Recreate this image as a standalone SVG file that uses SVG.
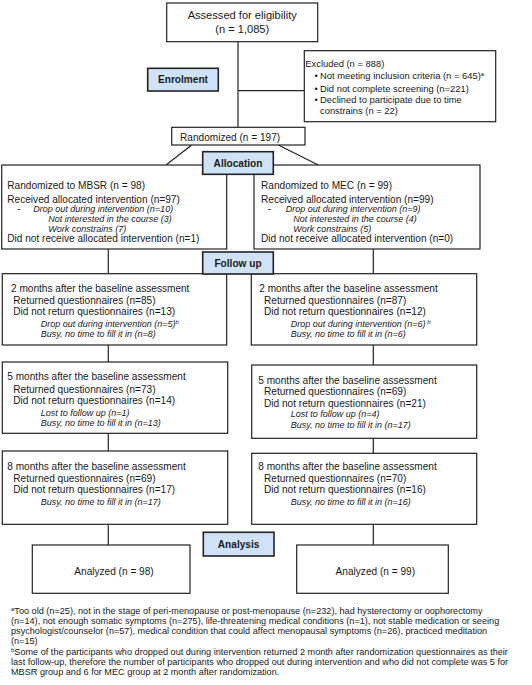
<svg xmlns="http://www.w3.org/2000/svg" width="532" height="685" viewBox="0 0 532 685">
<style>
.box{fill:#fff;stroke:#222;stroke-width:1.2}
.lab{fill:#cfe2f7;stroke:#222;stroke-width:1.6}
.ln{stroke:#222;stroke-width:1.2;fill:none}
text{font-family:"Liberation Sans",Arial,sans-serif;fill:#1a1a1a}
.t{font-size:10.1px}
.big{font-size:11.1px}
.ex{font-size:9.4px}
.i{font-size:9px;font-style:italic}
.b{font-size:10.1px;font-weight:bold}
.fn{font-size:9.15px}
.sup{font-size:6px}
</style>
<rect width="532" height="685" fill="#fff"/>
<g id="connectors">
<line class="ln" x1="238" y1="41.7" x2="238" y2="127.3"/>
<line class="ln" x1="238" y1="90.7" x2="304.3" y2="90.7"/>
<line class="ln" x1="191.7" y1="145" x2="166" y2="165"/>
<line class="ln" x1="278.3" y1="145" x2="318.3" y2="165"/>
<line class="ln" x1="108.3" y1="249" x2="108.3" y2="273.7"/>
<line class="ln" x1="373.3" y1="249" x2="373.3" y2="273.7"/>
<line class="ln" x1="108.3" y1="345" x2="108.3" y2="362"/>
<line class="ln" x1="373.3" y1="345" x2="373.3" y2="365"/>
<line class="ln" x1="108.3" y1="433.3" x2="108.3" y2="451"/>
<line class="ln" x1="373.3" y1="438.3" x2="373.3" y2="453.3"/>
<line class="ln" x1="108.3" y1="524.3" x2="108.3" y2="545"/>
<line class="ln" x1="373.3" y1="524.3" x2="373.3" y2="545"/>
</g>
<g id="assessed">
<rect class="box" x="166.7" y="3" width="151" height="38.7"/>
<text class="big" x="242.2" y="18.9" text-anchor="middle">Assessed for eligibility</text>
<text class="big" x="242.2" y="33.2" text-anchor="middle">(n = 1,085)</text>
</g>
<g id="excluded">
<rect class="box" x="304.3" y="50.7" width="191.4" height="71"/>
<text class="ex" x="305.3" y="66.6">Excluded (n = 888)</text>
<text class="ex" x="314.5" y="79.3">•</text>
<text class="ex" x="320" y="79.3">Not meeting inclusion criteria (n = 645)<tspan class="sup" dy="-3">a</tspan></text>
<text class="ex" x="314.5" y="91.6">•</text>
<text class="ex" x="320" y="91.6">Did not complete screening (n=221)</text>
<text class="ex" x="314.5" y="102.6">•</text>
<text class="ex" x="320" y="102.6">Declined to participate due to time</text>
<text class="ex" x="320" y="114">constrains (n = 22)</text>
</g>
<g id="enrolment">
<rect class="lab" x="147.7" y="68.3" width="70.6" height="22.7"/>
<text class="b" x="183" y="83.25" text-anchor="middle">Enrolment</text>
</g>
<g id="randomized">
<rect class="box" x="171.7" y="127.3" width="133.3" height="17.7"/>
<text class="t" x="180" y="140.85">Randomized (n = 197)</text>
</g>
<g id="mbsr-alloc">
<rect class="box" x="1.7" y="165" width="225" height="84"/>
<text class="t" x="7.3" y="189.25">Randomized to MBSR (n = 98)</text>
<text class="t" x="7.3" y="202.55">Received allocated intervention (n=97)</text>
<text class="t" x="17.3" y="212.45">-</text>
<text class="i" x="33.3" y="212.45">Drop out during intervention (n=10)</text>
<text class="i" x="48.3" y="222.15">Not interested in the course (3)</text>
<text class="i" x="48.3" y="231.85">Work constrains (7)</text>
<text class="t" x="7.3" y="241.85">Did not receive allocated intervention (n=1)</text>
</g>
<g id="mec-alloc">
<rect class="box" x="254" y="165" width="226" height="84"/>
<text class="t" x="261" y="189.25">Randomized to MEC (n = 99)</text>
<text class="t" x="261" y="202.55">Received allocated intervention (n=99)</text>
<text class="t" x="267.7" y="212.45">-</text>
<text class="i" x="285.7" y="212.45">Drop out during intervention (n=9)</text>
<text class="i" x="293.3" y="222.15">Not interested in the course (4)</text>
<text class="i" x="293.3" y="231.85">Work constrains (5)</text>
<text class="t" x="261" y="241.85">Did not receive allocated intervention (n=0)</text>
</g>
<g id="allocation">
<rect class="lab" x="202.7" y="151.7" width="70.6" height="22.6"/>
<text class="b" x="238" y="166.55" text-anchor="middle">Allocation</text>
</g>
<g id="mbsr-2m">
<rect class="box" x="2.3" y="273.7" width="224.4" height="71.3"/>
<text class="t" x="11" y="291.85">2 months after the baseline assessment</text>
<text class="t" x="13.3" y="303.55">Returned questionnaires (n=85)</text>
<text class="t" x="13.3" y="315.25">Did not return questionnaires (n=13)</text>
<text class="i" x="40.7" y="327.15">Drop out during intervention (n=5)<tspan class="sup" dy="-3">b</tspan></text>
<text class="i" x="40.7" y="337.45">Busy, no time to fill it in (n=8)</text>
</g>
<g id="mec-2m">
<rect class="box" x="251.3" y="273.7" width="225.4" height="71.3"/>
<text class="t" x="259.3" y="291.85">2 months after the baseline assessment</text>
<text class="t" x="264" y="303.55">Returned questionnaires (n=87)</text>
<text class="t" x="264" y="315.25">Did not return questionnaires (n=12)</text>
<text class="i" x="290.7" y="327.15">Drop out during intervention (n=6)<tspan class="sup" dy="-3"> b</tspan></text>
<text class="i" x="290.7" y="337.45">Busy, no time to fill it in (n=6)</text>
</g>
<g id="followup">
<rect class="lab" x="202.7" y="252" width="70.6" height="22"/>
<text class="b" x="238" y="266.55" text-anchor="middle">Follow up</text>
</g>
<g id="mbsr-5m">
<rect class="box" x="2.3" y="362" width="225.4" height="71.3"/>
<text class="t" x="7.3" y="380.25">5 months after the baseline assessment</text>
<text class="t" x="13.3" y="392.55">Returned questionnaires (n=73)</text>
<text class="t" x="13.3" y="404.25">Did not return questionnaires (n=14)</text>
<text class="i" x="40.7" y="415.85">Lost to follow up (n=1)</text>
<text class="i" x="40.7" y="425.85">Busy, no time to fill it in (n=13)</text>
</g>
<g id="mec-5m">
<rect class="box" x="251.7" y="365" width="225" height="73.3"/>
<text class="t" x="258.3" y="383.55">5 months after the baseline assessment</text>
<text class="t" x="264" y="395.25">Returned questionnaires (n=69)</text>
<text class="t" x="264" y="406.85">Did not return questionnaires (n=21)</text>
<text class="i" x="290.7" y="417.45">Lost to follow up (n=4)</text>
<text class="i" x="290.7" y="428.15">Busy, no time to fill it in (n=17)</text>
</g>
<g id="mbsr-8m">
<rect class="box" x="2.3" y="451" width="225.4" height="73.3"/>
<text class="t" x="7.3" y="470.25">8 months after the baseline assessment</text>
<text class="t" x="13.3" y="481.85">Returned questionnaires (n=69)</text>
<text class="t" x="13.3" y="492.85">Did not return questionnaires (n=17)</text>
<text class="i" x="40.7" y="505.45">Busy, no time to fill it in (n=17)</text>
</g>
<g id="mec-8m">
<rect class="box" x="251.7" y="453.3" width="225" height="71"/>
<text class="t" x="258.3" y="470.25">8 months after the baseline assessment</text>
<text class="t" x="264" y="481.85">Returned questionnaires (n=70)</text>
<text class="t" x="264" y="492.85">Did not return questionnaires (n=16)</text>
<text class="i" x="290.7" y="505.45">Busy, no time to fill it in (n=16)</text>
</g>
<g id="mbsr-analyzed">
<rect class="box" x="32.3" y="545" width="157.7" height="48.3"/>
<text class="t" x="114" y="574.55" text-anchor="middle">Analyzed (n = 98)</text>
</g>
<g id="mec-analyzed">
<rect class="box" x="296.7" y="545" width="151.6" height="48.3"/>
<text class="t" x="375.3" y="574.55" text-anchor="middle">Analyzed (n = 99)</text>
</g>
<g id="analysis">
<rect class="lab" x="203.3" y="532.3" width="70.7" height="23.7"/>
<text class="b" x="238.6" y="547.75" text-anchor="middle">Analysis</text>
</g>
<g id="footnotes">
<text class="fn" x="11" y="613.9"><tspan class="sup" dy="-3">a</tspan><tspan dy="3">Too old (n=25), not in the stage of peri-menopause or post-menopause (n=232), had hysterectomy or oophorectomy</tspan></text>
<text class="fn" x="11" y="624.1">(n=14), not enough somatic symptoms (n=275), life-threatening medical conditions (n=1), not stable medication or seeing</text>
<text class="fn" x="11" y="634.2">psychologist/counselor (n=57), medical condition that could affect menopausal symptoms (n=26), practiced meditation</text>
<text class="fn" x="11" y="644.4">(n=15)</text>
<text class="fn" x="11" y="654.6"><tspan class="sup" dy="-3">b</tspan><tspan dy="3">Some of the participants who dropped out during intervention returned 2 month after randomization questionnaires as their</tspan></text>
<text class="fn" x="11" y="664.7">last follow-up, therefore the number of participants who dropped out during intervention and who did not complete was 5 for</text>
<text class="fn" x="11" y="674.9">MBSR group and 6 for MEC group at 2 month after randomization.</text>
</g>
</svg>
